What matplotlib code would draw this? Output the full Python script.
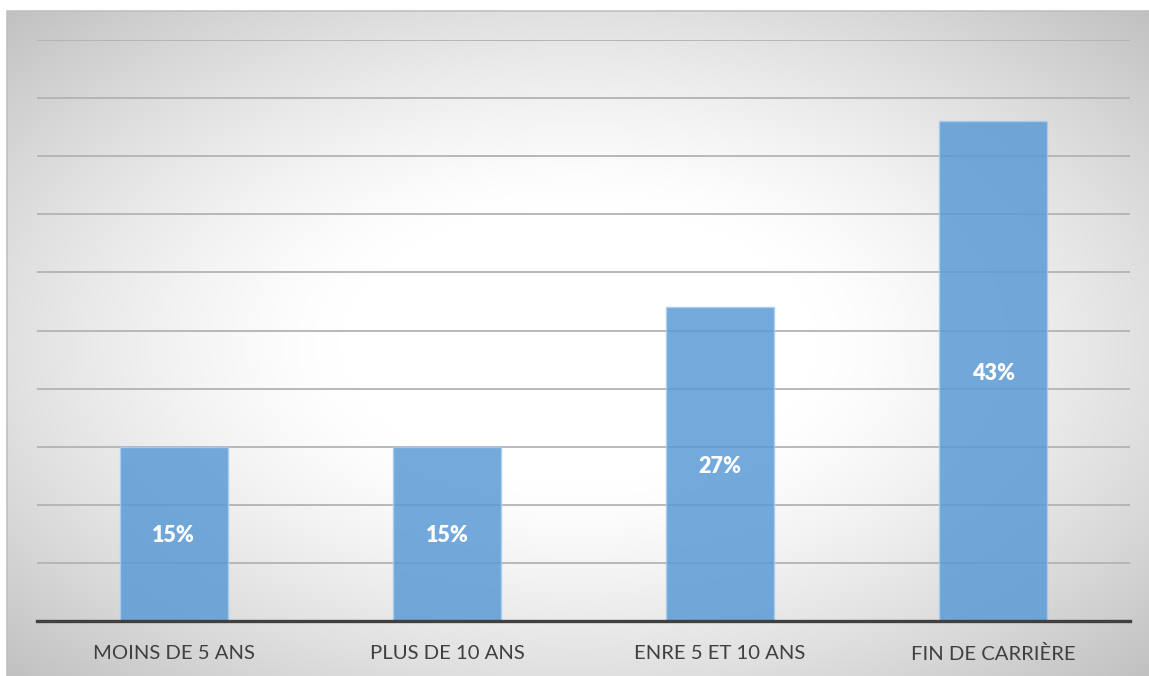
import numpy as np
import matplotlib.pyplot as plt

categories = ["MOINS DE 5 ANS", "PLUS DE 10 ANS", "ENRE 5 ET 10 ANS", "FIN DE CARRIÈRE"]
shares = [15, 15, 27, 43]
labels = ["15%", "15%", "27%", "43%"]

W, H = 1149, 676
fig = plt.figure(figsize=(W / 100, H / 100), dpi=100)
fig.patch.set_facecolor("white")

# chart area with a radial grey-to-white fill
bg = fig.add_axes([7 / W, 0, 1 - 7 / W, 1 - 11 / H])
ny, nx = 300, 500
yy, xx = np.mgrid[-1:1:ny * 1j, -1:1:nx * 1j]
d = np.sqrt(xx ** 2 + yy ** 2)
t = np.clip((d - 0.42) / (1.414 - 0.42), 0, 1) ** 1.3
shade = (255 - 62 * t) / 255
bg.imshow(np.dstack([shade, shade, shade]), extent=[0, 1, 0, 1], aspect="auto")
bg.set_xlim(0, 1)
bg.set_ylim(0, 1)
bg.axis("off")
bg.plot([0, 0, 1], [0, 1, 1], color="#c0c0c0", lw=1.2, transform=bg.transAxes, clip_on=False)

ax = fig.add_axes([37 / W, 1 - 621 / H, 1093 / W, 581 / H])
ax.set_facecolor("none")
x = np.arange(len(categories))
bars = ax.bar(x, shares, width=0.395, color="#5b9bd5", alpha=0.85,
              edgecolor="#a9cdee", linewidth=1.0, zorder=2)

for b, lab in zip(bars, labels):
    ax.text(b.get_x() + b.get_width() / 2, b.get_height() / 2, lab,
            ha="center", va="center_baseline", color="white", fontsize=15.5,
            fontweight="heavy", family="Lato", zorder=3)

ax.set_xlim(-0.5, len(categories) - 0.5)
ax.set_ylim(0, 50)
ax.set_yticks(np.arange(0, 51, 5))
ax.set_yticklabels([])
ax.yaxis.grid(True, color="#b3b3b3", lw=1.3, zorder=0)
ax.set_axisbelow(True)
ax.tick_params(axis="y", length=0)

ax.set_xticks(x)
ax.set_xticklabels(categories, fontsize=14.6, color="#404040", family="Lato")
ax.tick_params(axis="x", length=0, pad=17)

for side in ["top", "right", "left"]:
    ax.spines[side].set_visible(False)
ax.spines["bottom"].set_color("#404040")
ax.spines["bottom"].set_linewidth(2.4)
ax.spines["bottom"].set_zorder(4)

plt.savefig("out.png", dpi=100)
